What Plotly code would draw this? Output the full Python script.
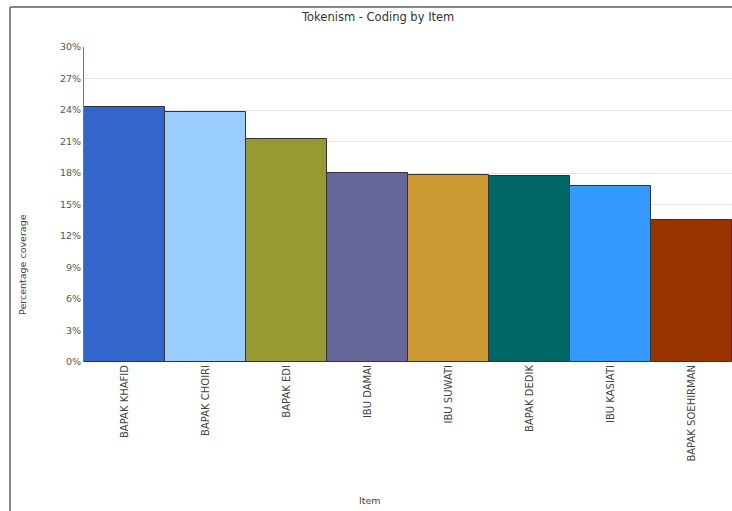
import plotly.graph_objects as go

items = ["BAPAK KHAFID", "BAPAK CHOIRI", "BAPAK EDI", "IBU DAMAI",
         "IBU SUWATI", "BAPAK DEDIK", "IBU KASIATI", "BAPAK SOEHIRMAN"]
coverage = [24.3, 23.8, 21.2, 18.0, 17.8, 17.75, 16.8, 13.5]
colors = ["#3366cc", "#99ccff", "#999933", "#666699",
          "#cc9933", "#006666", "#3399ff", "#993300"]
y_ticks = [0, 3, 6, 9, 12, 15, 18, 21, 24, 27, 30]
y_tick_labels = [f"{v}%" for v in y_ticks]

W, H = 732, 511
L, R, T, B = 84, 0, 47, 149

fig = go.Figure(go.Bar(
    x=items, y=coverage,
    marker=dict(color=colors, line=dict(color="#333333", width=1)),
    width=1.0,
))

def px(x):
    return (x - L) / (W - L - R)

def py(y):
    return (H - B - y) / (H - T - B)

def label(text, x, y, size, angle=0, color="#444444"):
    return dict(text=text, x=px(x), y=py(y), xref="paper", yref="paper",
                xanchor="center", yanchor="middle", textangle=angle,
                showarrow=False, font=dict(size=size, color=color))

fig.update_layout(
    width=W, height=H,
    margin=dict(l=L, r=R, t=T, b=B),
    paper_bgcolor="white", plot_bgcolor="white",
    showlegend=False,
    bargap=0,
    font=dict(family="DejaVu Sans, Arial, sans-serif", color="#333333"),
    xaxis=dict(
        tickangle=-90, tickfont=dict(size=10, color="#444444"),
        showgrid=False, showline=False, ticks="", range=[-0.5, 7.5],
    ),
    yaxis=dict(
        range=[0, 30], tickvals=y_ticks, ticktext=y_tick_labels,
        tickfont=dict(size=9.5, color="#555555"),
        showgrid=True, gridcolor="#e4e4e4", gridwidth=1,
        showline=True, linecolor="#777777", linewidth=1,
        zeroline=False, ticks="",
    ),
    annotations=[
        label("Tokenism - Coding by Item", 377, 17, 11.5, color="#333333"),
        label("Percentage coverage", 22, 265, 9.5, angle=-90),
        label("Item", 370, 500, 9.5),
    ],
    shapes=[
        dict(type="line", xref="paper", yref="paper",
             x0=px(10), x1=px(740), y0=py(7), y1=py(7),
             line=dict(color="#888888", width=2)),
        dict(type="line", xref="paper", yref="paper",
             x0=px(10), x1=px(10), y0=py(7), y1=py(515),
             line=dict(color="#888888", width=2)),
    ],
)

fig.write_html("out.html", config={"displayModeBar": False},
               post_script="document.body.style.margin='0';document.body.style.overflow='hidden';")
